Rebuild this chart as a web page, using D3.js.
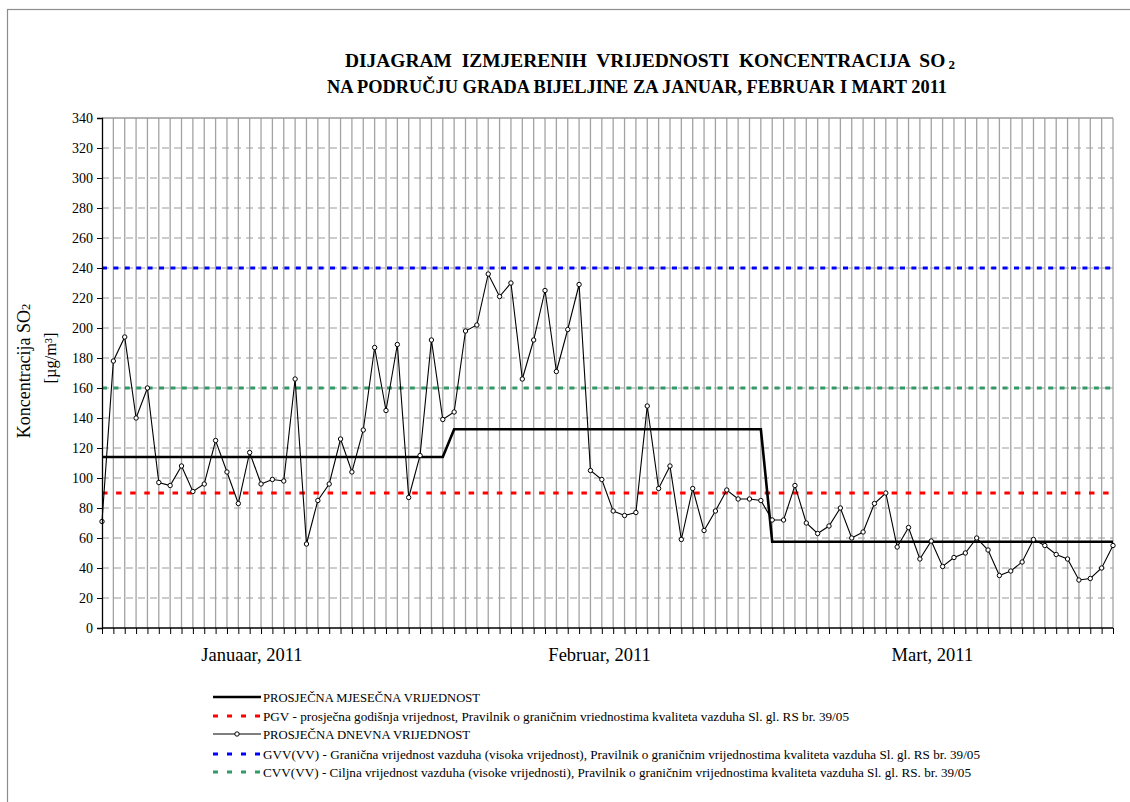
<!DOCTYPE html>
<html><head><meta charset="utf-8">
<script src="https://cdn.jsdelivr.net/npm/d3@7"></script>
<style>
body{margin:0;background:#fff;}
svg text{font-family:"Liberation Serif","Times New Roman",serif;fill:#000;}
</style></head>
<body><svg id="chart" width="1130" height="802"></svg>
<script>
// ---------- data ----------
const titleLine1 = "DIJAGRAM  IZMJERENIH  VRIJEDNOSTI  KONCENTRACIJA  SO";
const titleSub = "2";
const titleLine2 = "NA PODRUČJU GRADA BIJELJINE ZA JANUAR, FEBRUAR I MART 2011";
const yTitle1 = "Koncentracija SO";
const yTitle2 = "[µg/m³]";
const monthNames = ["Januaar, 2011", "Februar, 2011", "Mart, 2011"];
const monthLabelAt = [13.2, 43.8, 73.1];   // category position of each month label
const monthDays = [31, 28, 31];
const monthlyAvg = [114, 132.5, 57.5];
const dailyJan = [71,178,194,140,160,97,95,108,91,96,125,104,83,117,96,99,98,166,56,85,96,126,104,132,187,145,189,87,115,192,139];
const dailyFeb = [144,198,202,236,221,230,166,192,225,171,199,229,105,99,78,75,77,148,93,108,59,93,65,78,92,86,86,85];
const dailyMar = [72,72,95,70,63,68,80,60,64,83,90,54,67,46,58,41,47,50,60,52,35,38,44,59,55,49,46,32,33,40,55];
const limitPGV = 90, limitGVV = 240, limitCVV = 160;
const yTicks = [0,20,40,60,80,100,120,140,160,180,200,220,240,260,280,300,320,340];
const legendLabels = [
  "PROSJEČNA MJESEČNA VRIJEDNOST",
  "PGV - prosječna godišnja vrijednost, Pravilnik o graničnim vriednostima kvaliteta vazduha Sl. gl. RS br. 39/05",
  "PROSJEČNA DNEVNA VRIJEDNOST",
  "GVV(VV) - Granična vrijednost vazduha (visoka vrijednost), Pravilnik o graničnim vrijednostima kvaliteta vazduha Sl. gl. RS br. 39/05",
  "CVV(VV) - Ciljna vrijednost vazduha (visoke vrijednosti), Pravilnik o graničnim vrijednostima kvaliteta vazduha Sl. gl. RS. br. 39/05"
];

// ---------- layout ----------
const legendWidths = [217, 586, 207, 717, 708];

// ---------- derived ----------
const daily = dailyJan.concat(dailyFeb, dailyMar);
const categories = d3.range(daily.length);   // one category per day, Jan 1 .. Mar 31
const monthly = [];
monthDays.forEach((n, m) => { for (let k = 0; k < n; k++) monthly.push(monthlyAvg[m]); });

const svg = d3.select("#chart");
const L = 102, R = 1113, T = 118, B = 628;
const x = d3.scalePoint().domain(categories).range([L, R]);
const y = d3.scaleLinear().domain([0, 340]).range([B, T]);

// outer frame
svg.append("rect").attr("x", 7.5).attr("y", 9.5).attr("width", 1140).attr("height", 820)
  .attr("fill", "none").attr("stroke", "#8c8c8c").attr("stroke-width", 1.2);

// horizontal dashed grid
svg.append("g").selectAll("line").data(yTicks.filter(v => v > 0 && v < 340)).join("line")
  .attr("x1", L).attr("x2", R).attr("y1", d => y(d)).attr("y2", d => y(d))
  .attr("stroke", "#9a9a9a").attr("stroke-width", 1).attr("stroke-dasharray", "7,5");

// vertical grid
svg.append("g").selectAll("line").data(categories.slice(1)).join("line")
  .attr("x1", d => x(d)).attr("x2", d => x(d)).attr("y1", T).attr("y2", B)
  .attr("stroke", "#a3a3a3").attr("stroke-width", 1.3);

// top border
svg.append("line").attr("x1", L).attr("x2", R).attr("y1", T).attr("y2", T)
  .attr("stroke", "#9a9a9a").attr("stroke-width", 1.3);

// limit lines
const limits = [
  {v: limitGVV, c: "#0000ff", dash: "5,6.4"},
  {v: limitCVV, c: "#339966", dash: "5,6.4"},
  {v: limitPGV, c: "#ff0000", dash: "5.5,8.6"}
];
svg.append("g").selectAll("line").data(limits).join("line")
  .attr("x1", L).attr("x2", R).attr("y1", d => y(d.v)).attr("y2", d => y(d.v))
  .attr("stroke", d => d.c).attr("stroke-width", 3).attr("stroke-dasharray", d => d.dash);

// monthly average
svg.append("path").datum(monthly)
  .attr("d", d3.line().x((d, i) => x(i)).y(d => y(d)))
  .attr("fill", "none").attr("stroke", "#000").attr("stroke-width", 2.6);

// daily line
svg.append("path").datum(daily)
  .attr("d", d3.line().x((d, i) => x(i)).y(d => y(d)))
  .attr("fill", "none").attr("stroke", "#000").attr("stroke-width", 1.1);
svg.append("g").selectAll("circle").data(daily).join("circle")
  .attr("cx", (d, i) => x(i)).attr("cy", d => y(d)).attr("r", 2.2)
  .attr("fill", "#fff").attr("stroke", "#000").attr("stroke-width", 1);

// axes
const yAxis = svg.append("g").attr("transform", `translate(${L},0)`)
  .call(d3.axisLeft(y).tickValues(yTicks).tickSize(5).tickPadding(4));
yAxis.attr("font-family", null);
yAxis.select(".domain").attr("stroke", "#000").attr("stroke-width", 1.3);
yAxis.selectAll(".tick line").attr("stroke", "#000");
yAxis.selectAll("text").attr("font-size", 14);

const xAxis = svg.append("g").attr("transform", `translate(0,${B})`)
  .call(d3.axisBottom(x).tickSize(6).tickFormat(""));
xAxis.select(".domain").attr("stroke", "#000").attr("stroke-width", 1.3).attr("d", `M${L},0H${R}`);
xAxis.selectAll(".tick line").attr("stroke", "#000");

// month labels
svg.append("g").selectAll("text").data(monthNames).join("text")
  .attr("x", (d, i) => L + monthLabelAt[i] * x.step()).attr("y", 661)
  .attr("text-anchor", "middle").attr("font-size", 18.5).text(d => d);

// titles
const t1 = svg.append("text").attr("x", 345).attr("y", 67)
  .attr("font-size", 18).attr("font-weight", "bold").style("white-space", "pre")
  .attr("textLength", 610).attr("lengthAdjust", "spacingAndGlyphs");
t1.append("tspan").text(titleLine1);
t1.append("tspan").attr("font-size", 12).attr("dy", 2).text(" " + titleSub);
svg.append("text").attr("x", 327).attr("y", 93)
  .attr("font-size", 18).attr("font-weight", "bold")
  .attr("textLength", 620).attr("lengthAdjust", "spacingAndGlyphs").text(titleLine2);

// y titles
const yt = svg.append("text").attr("transform", "translate(30,371) rotate(-90)")
  .attr("text-anchor", "middle").attr("font-size", 18);
yt.append("tspan").text(yTitle1);
yt.append("tspan").attr("font-size", 12.5).text("2");
svg.append("text").attr("transform", "translate(56,358) rotate(-90)")
  .attr("text-anchor", "middle").attr("font-size", 16.5).text(yTitle2);

// legend
const legY = [697, 716, 734, 754, 772];
const legX1 = 213, legX2 = 261;
const lg = svg.append("g");
legendLabels.forEach((lab, i) => {
  const yy = legY[i];
  if (i === 0) {
    lg.append("line").attr("x1", legX1).attr("x2", legX2).attr("y1", yy).attr("y2", yy)
      .attr("stroke", "#000").attr("stroke-width", 2.6);
  } else if (i === 2) {
    lg.append("line").attr("x1", legX1).attr("x2", legX2).attr("y1", yy).attr("y2", yy)
      .attr("stroke", "#000").attr("stroke-width", 1.1);
    lg.append("circle").attr("cx", (legX1 + legX2) / 2).attr("cy", yy).attr("r", 2.2)
      .attr("fill", "#fff").attr("stroke", "#000");
  } else {
    const c = i === 1 ? limits[2].c : (i === 3 ? limits[0].c : limits[1].c);
    lg.append("line").attr("x1", legX1).attr("x2", legX2 + 1).attr("y1", yy).attr("y2", yy)
      .attr("stroke", c).attr("stroke-width", 3).attr("stroke-dasharray", "5,9");
  }
  lg.append("text").attr("x", legX2 + 2).attr("y", yy + 4.5).attr("font-size", 12.8)
    .attr("textLength", legendWidths[i]).attr("lengthAdjust", "spacingAndGlyphs").text(lab);
});
</script></body></html>
